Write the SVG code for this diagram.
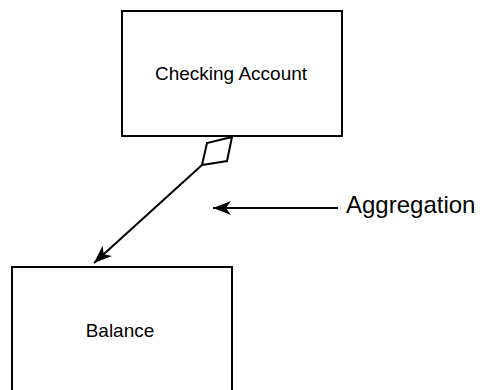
<svg xmlns="http://www.w3.org/2000/svg" width="482" height="390" viewBox="0 0 482 390">
<style>
.box{fill:#fff;stroke:#000;stroke-width:2}
.lbl{font-family:"Liberation Sans",Arial,sans-serif;font-size:19px;fill:#000;text-anchor:middle}
.big{font-family:"Liberation Sans",Arial,sans-serif;font-size:24px;fill:#000}
.ln{stroke:#000;stroke-width:2;fill:none}
</style>
<defs>
<marker id="ah" markerWidth="20" markerHeight="14" refX="18" refY="7" orient="auto" markerUnits="userSpaceOnUse">
<path d="M0,0 L18,7 L0,14 L5,7 Z" fill="#000"/>
</marker>
</defs>
<rect width="482" height="390" fill="#fff"/>
<g id="checking">
<rect class="box" x="122" y="11" width="220" height="125"/>
<text class="lbl" x="231" y="80">Checking Account</text>
</g>
<g id="balance">
<rect class="box" x="12" y="267" width="220" height="130"/>
<text class="lbl" x="120" y="337">Balance</text>
</g>
<g id="connectors">
<polygon points="232,137 207,143 202,165 227,161" fill="#fff" stroke="#000" stroke-width="2"/>
<line class="ln" x1="202" y1="165" x2="94" y2="263" marker-end="url(#ah)"/>
<line class="ln" x1="338" y1="208" x2="213" y2="208" marker-end="url(#ah)"/>
</g>
<text class="big" x="346" y="213">Aggregation</text>
</svg>
